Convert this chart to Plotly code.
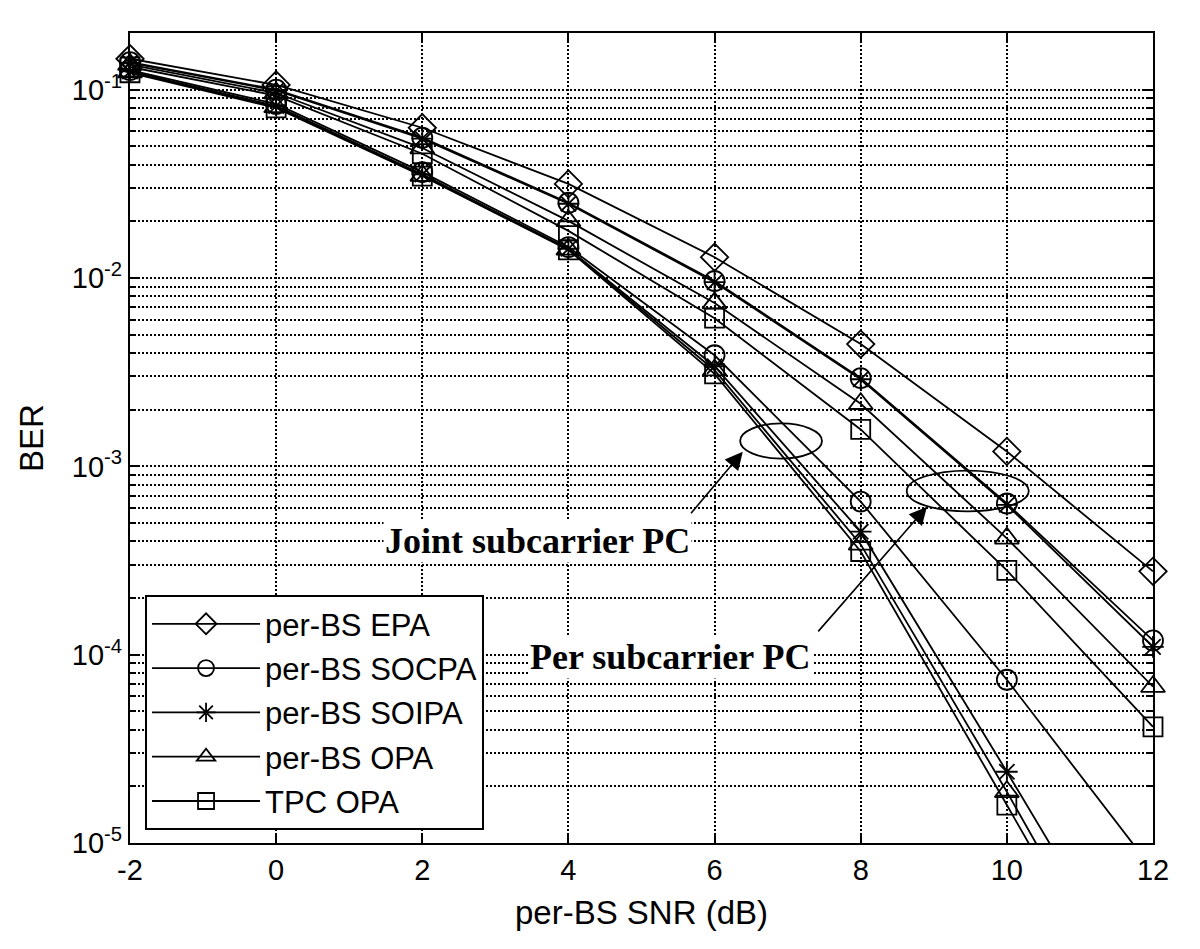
import numpy as np
import plotly.graph_objects as go

# ---------------- data ----------------
snr_db = [-2, 0, 2, 4, 6, 8, 10, 12]

ber_epa = [0.146, 0.106, 0.0628, 0.0316, 0.0129, 0.00446, 0.00120, 0.000277]
# per subcarrier power control
ber_socpa_per = [0.140, 0.100, 0.0556, 0.0251, 0.00964, 0.00294, 0.000635, 0.000119]
ber_soipa_per = [0.139, 0.099, 0.0550, 0.0248, 0.00950, 0.00290, 0.000625, 0.000110]
ber_opa_per = [0.136, 0.096, 0.0490, 0.0201, 0.00736, 0.00215, 0.000415, 0.0000676]
ber_tpc_per = [0.132, 0.093, 0.0457, 0.0178, 0.00612, 0.00157, 0.000280, 0.0000414]
# joint subcarrier power control
ber_socpa_joint = [0.127, 0.084, 0.0365, 0.0146, 0.00389, 0.000650, 0.0000736, 0.0000072]
ber_soipa_joint = [0.125, 0.082, 0.0355, 0.0143, 0.00340, 0.000450, 0.0000239, 0.0000012]
ber_opa_joint = [0.124, 0.081, 0.0350, 0.0142, 0.00324, 0.000385, 0.0000187, 0.0000008]
ber_tpc_joint = [0.123, 0.080, 0.0348, 0.0141, 0.00310, 0.000353, 0.0000159, 0.0000007]

legend_names = ["per-BS EPA", "per-BS SOCPA", "per-BS SOIPA", "per-BS OPA", "TPC OPA"]
legend_symbols = ["diamond-open", "circle-open", "asterisk-open", "triangle-up-open", "square-open"]
x_ticks = [-2, 0, 2, 4, 6, 8, 10, 12]
y_tick_exps = [-5, -4, -3, -2, -1]

Y_MIN, Y_MAX = 1e-5, 0.2

series = [
    (ber_epa, "diamond-open"),
    (ber_socpa_per, "circle-open"),
    (ber_soipa_per, "asterisk-open"),
    (ber_opa_per, "triangle-up-open"),
    (ber_tpc_per, "square-open"),
    (ber_socpa_joint, "circle-open"),
    (ber_soipa_joint, "asterisk-open"),
    (ber_opa_joint, "triangle-up-open"),
    (ber_tpc_joint, "square-open"),
]
msize = {"diamond-open": 21, "circle-open": 20, "asterisk-open": 18,
         "triangle-up-open": 21, "square-open": 19}

fig = go.Figure()
x_arr = np.array(snr_db, dtype=float)
for vals, sym in series:
    v = np.array(vals)
    # line (clipped to the axes)
    fig.add_trace(go.Scatter(
        x=x_arr, y=v, mode="lines", line=dict(color="black", width=1.8),
        showlegend=False, hoverinfo="skip", cliponaxis=True))
    # markers inside the visible range (not clipped at the edge)
    m = v >= Y_MIN
    fig.add_trace(go.Scatter(
        x=x_arr[m], y=v[m], mode="markers", cliponaxis=False,
        marker=dict(symbol=sym, size=msize[sym], color="black",
                    line=dict(color="black", width=1.8)),
        showlegend=False))

# legend entries
for li, (name, sym) in enumerate(zip(legend_names, legend_symbols)):
    fig.add_trace(go.Scatter(
        x=[None], y=[None], mode="lines+markers", name=name,
        legendgroup=f"g{li}",
        line=dict(color="black", width=1.8),
        marker=dict(symbol=sym, size=msize[sym], color="black",
                    line=dict(color="black", width=1.8))))

grid = dict(gridcolor="black", gridwidth=2, griddash="2px,2px")
fig.update_xaxes(
    range=[-2, 12], tickmode="array", tickvals=x_ticks,
    ticktext=[str(t) for t in x_ticks],
    ticks="inside", ticklen=9, tickwidth=1.5, tickcolor="black",
    showline=True, linewidth=2.2, linecolor="black", mirror="ticks",
    showgrid=True, zeroline=False, **grid,
    tickfont=dict(size=29, color="black"),
    title=dict(text="per-BS SNR (dB)", font=dict(size=33, color="black"), standoff=16),
)
fig.update_yaxes(
    type="log", range=[np.log10(Y_MIN), np.log10(Y_MAX)],
    tickmode="array", tickvals=[10.0 ** e for e in y_tick_exps],
    ticktext=[f"10<sup>{e}</sup>" for e in y_tick_exps],
    ticks="inside", ticklen=9, tickwidth=1.5, tickcolor="black",
    showline=True, linewidth=2.2, linecolor="black", mirror="ticks",
    showgrid=True, zeroline=False, **grid,
    minor=dict(dtick="D1", ticks="inside", ticklen=5, tickcolor="black",
               showgrid=True, gridcolor="black", gridwidth=2, griddash="2px,2px"),
    tickfont=dict(size=29, color="black"),
    title=dict(text="BER", font=dict(size=33, color="black"), standoff=18),
)

# ellipses marking the groups of curves
fig.add_shape(type="circle", xref="x", yref="y", x0=6.35, x1=7.47, y0=1.10e-3, y1=1.69e-3,
              line=dict(color="black", width=1.8))
fig.add_shape(type="circle", xref="x", yref="y", x0=8.63, x1=10.30, y0=5.77e-4, y1=9.5e-4,
              line=dict(color="black", width=1.8))

tfont = dict(family="Liberation Serif, Times New Roman, serif", size=36, color="black")
fig.add_annotation(xref="paper", yref="paper", x=0.398, y=0.373, text="<b>Joint subcarrier PC</b>",
                   showarrow=False, font=tfont, bgcolor="white")
fig.add_annotation(xref="paper", yref="paper", x=0.528, y=0.203, text="<b>Per subcarrier PC</b>",
                   showarrow=False, font=tfont, bgcolor="white")
for tipx, tipy, axp, ayp in [(0.599, 0.483, -53, 63), (0.779, 0.415, -110, 126)]:
    fig.add_annotation(xref="paper", yref="paper", x=tipx, y=tipy, text="", showarrow=True,
                       ax=axp, ay=ayp, arrowhead=2, arrowsize=2.2, arrowwidth=1.6,
                       arrowcolor="black")

fig.update_layout(
    width=1200, height=949,
    margin=dict(l=122, r=55, t=25, b=114),
    plot_bgcolor="white", paper_bgcolor="white",
    font=dict(family="Liberation Sans, Arial, sans-serif", size=29, color="black"),
    legend=dict(x=0.0147, y=0.306, xanchor="left", yanchor="top",
                bgcolor="white", bordercolor="black", borderwidth=2,
                font=dict(size=31), tracegroupgap=1, itemwidth=108),
    showlegend=True,
)

fig.write_html("out.html")
